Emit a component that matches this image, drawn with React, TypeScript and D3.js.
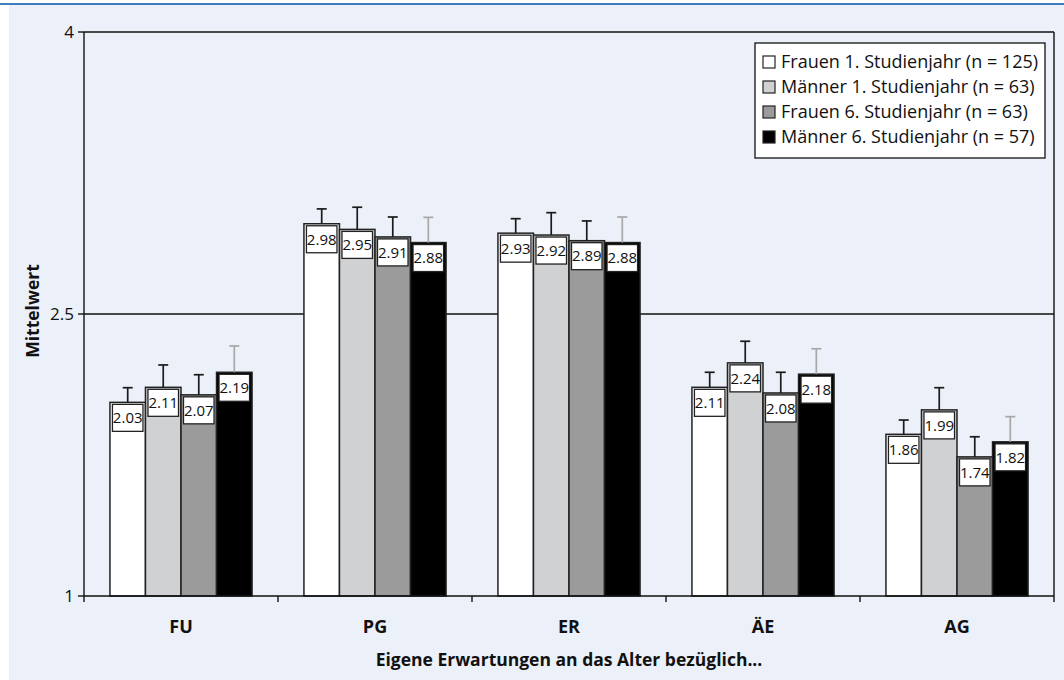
import React from "react";
import * as d3 from "d3";

// Kategorien (Erwartungen an das Alter bezüglich ...)
const categories = ["FU", "PG", "ER", "ÄE", "AG"];

// Gruppen
const seriesNames = [
  "Frauen 1. Studienjahr (n = 125)",
  "Männer 1. Studienjahr (n = 63)",
  "Frauen 6. Studienjahr (n = 63)",
  "Männer 6. Studienjahr (n = 57)",
];

// Mittelwerte je Gruppe (Reihenfolge wie categories)
const frauen1 = [2.03, 2.98, 2.93, 2.11, 1.86];
const maenner1 = [2.11, 2.95, 2.92, 2.24, 1.99];
const frauen6 = [2.07, 2.91, 2.89, 2.08, 1.74];
const maenner6 = [2.19, 2.88, 2.88, 2.18, 1.82];

// Standardfehler je Gruppe
const errFrauen1 = [0.078, 0.079, 0.077, 0.08, 0.076];
const errMaenner1 = [0.119, 0.118, 0.119, 0.115, 0.118];
const errFrauen6 = [0.107, 0.106, 0.105, 0.11, 0.107];
const errMaenner6 = [0.14, 0.134, 0.136, 0.135, 0.134];

const yTicks = [1, 2.5, 4];
const gridValues = [2.5, 4];

const values = [frauen1, maenner1, frauen6, maenner6];
const errors = [errFrauen1, errMaenner1, errFrauen6, errMaenner6];
const fills = ["#ffffff", "#d0d1d3", "#9b9b9b", "#000000"];
const errColors = ["#1a1a1a", "#1a1a1a", "#1a1a1a", "#a8a8a8"];

const FONT = "'Open Sans', 'Noto Sans', sans-serif";

export default function App() {
  const W = 1064;
  const H = 680;
  const left = 84;
  const right = 1054;
  const top = 32;
  const bottom = 596;

  const y = d3.scaleLinear().domain([1, 4]).range([bottom, top]);
  const x0 = d3.scaleBand<string>().domain(categories).range([left, right]);
  const x1 = d3
    .scaleBand<number>()
    .domain(d3.range(seriesNames.length))
    .range([0, x0.bandwidth()])
    .paddingInner(0)
    .paddingOuter(0.73);

  const bw = x1.bandwidth();
  const boxW = bw - 5;
  const boxH = 27;
  const cap = 5;

  return (
    <svg
      width={W}
      height={H}
      style={{ position: "absolute", left: 0, top: 0, fontFamily: FONT }}
    >
      <rect x={0} y={0} width={W} height={H} fill="#ffffff" />
      <rect x={9} y={5} width={W - 9} height={H - 5} fill="#ecf0f8" />
      <line x1={0} x2={W} y1={4} y2={4} stroke="#3d7cbf" strokeWidth={2} />

      {/* Gitterlinien und Rahmen */}
      {gridValues.map((v) => (
        <line key={v} x1={left} x2={right} y1={y(v)} y2={y(v)} stroke="#111" strokeWidth={1.4} />
      ))}
      <line x1={right} x2={right} y1={top} y2={bottom} stroke="#111" strokeWidth={1.4} />

      {/* Balken */}
      {categories.map((c, ci) => (
        <g key={c} transform={`translate(${x0(c)},0)`}>
          {values.map((vals, si) => (
            <rect
              key={si}
              x={x1(si)}
              y={y(vals[ci])}
              width={bw}
              height={y(1) - y(vals[ci])}
              fill={fills[si]}
              stroke="#222"
              strokeWidth={1.5}
            />
          ))}
          {values.map((vals, si) => {
            const cx = (x1(si) as number) + bw / 2;
            const yt = y(vals[ci] + errors[si][ci]);
            return (
              <g key={`e${si}`} stroke={errColors[si]} strokeWidth={1.7}>
                <line x1={cx} x2={cx} y1={y(vals[ci])} y2={yt} />
                <line x1={cx - cap} x2={cx + cap} y1={yt} y2={yt} />
              </g>
            );
          })}
          {values.map((vals, si) => {
            const cx = (x1(si) as number) + bw / 2;
            const bt = y(vals[ci]) + 2;
            return (
              <g key={`l${si}`}>
                <rect
                  x={cx - boxW / 2}
                  y={bt}
                  width={boxW}
                  height={boxH}
                  fill="#fff"
                  stroke="#222"
                  strokeWidth={1.3}
                />
                <text
                  x={cx}
                  y={bt + boxH / 2}
                  dy="0.35em"
                  textAnchor="middle"
                  fontSize={15}
                  fill="#111"
                >
                  {vals[ci].toFixed(2)}
                </text>
              </g>
            );
          })}
        </g>
      ))}

      {/* Achsen */}
      <line x1={left} x2={left} y1={top} y2={bottom} stroke="#111" strokeWidth={1.4} />
      <line x1={left} x2={right} y1={bottom} y2={bottom} stroke="#111" strokeWidth={1.4} />
      {yTicks.map((t) => (
        <g key={t}>
          <line x1={left - 6} x2={left} y1={y(t)} y2={y(t)} stroke="#111" strokeWidth={1.4} />
          <text x={left - 10} y={y(t)} dy="0.35em" textAnchor="end" fontSize={17} fill="#111">
            {t}
          </text>
        </g>
      ))}
      {[...categories.map((c) => x0(c) as number), right].map((xv, i) => (
        <line key={i} x1={xv} x2={xv} y1={bottom} y2={bottom + 6} stroke="#111" strokeWidth={1.4} />
      ))}
      {categories.map((c) => (
        <text
          key={c}
          x={(x0(c) as number) + x0.bandwidth() / 2}
          y={627}
          dy="0.35em"
          textAnchor="middle"
          fontSize={18}
          fontWeight="bold"
          fill="#111"
        >
          {c}
        </text>
      ))}
      <text
        x={(left + right) / 2}
        y={660}
        dy="0.35em"
        textAnchor="middle"
        fontSize={17.5}
        fontWeight="bold"
        fill="#111"
      >
        Eigene Erwartungen an das Alter bezüglich...
      </text>
      <text
        transform={`translate(33,${(top + bottom) / 2 - 3}) rotate(-90)`}
        dy="0.35em"
        textAnchor="middle"
        fontSize={17.5}
        fontWeight="bold"
        fill="#111"
      >
        Mittelwert
      </text>

      {/* Legende */}
      <g>
        <rect x={755} y={43} width={290} height={115} fill="#fff" stroke="#111" strokeWidth={1.3} />
        {seriesNames.map((s, i) => {
          const cy = 62 + i * 25;
          return (
            <g key={s}>
              <rect x={763} y={cy - 6} width={12} height={12} fill={fills[i]} stroke="#222" strokeWidth={1.2} />
              <text x={781} y={cy} dy="0.35em" fontSize={18} fill="#111">
                {s}
              </text>
            </g>
          );
        })}
      </g>
    </svg>
  );
}
